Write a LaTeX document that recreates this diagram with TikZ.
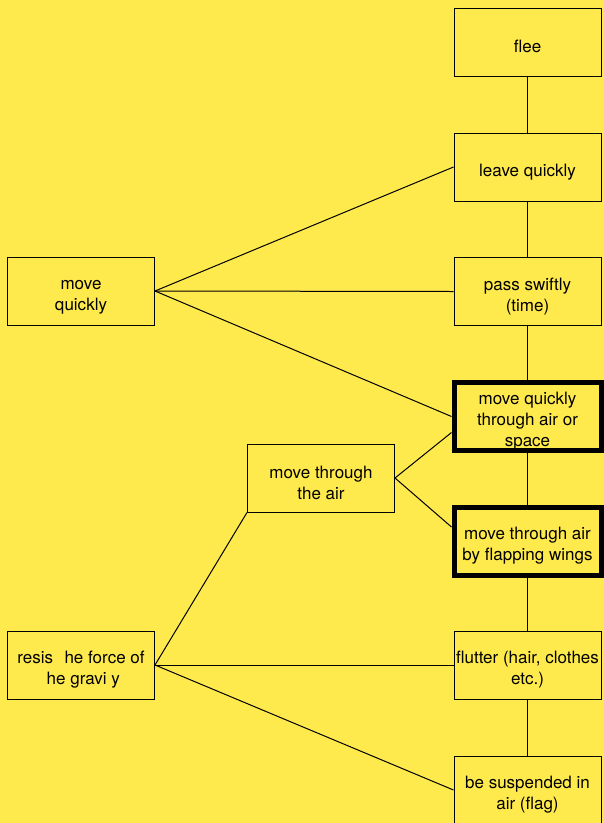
\documentclass[tikz,border=0pt]{standalone}
\usepackage{fontspec}
\setmainfont{TeX Gyre Heros}
\newcommand{\dropline}{\rule{0pt}{22pt}}

\begin{document}
\begin{tikzpicture}[x=1pt,y=1pt,
  sense/.style={draw=black,line width=1pt,minimum width=147pt,minimum height=68pt,
    inner sep=0pt,align=center,font=\fontsize{17}{21}\selectfont},
  sensebold/.style={sense,line width=5pt},
  link/.style={line width=1pt,color=black}]
% ------------------------------------------------ background
\definecolor{sheet_yellow}{RGB}{255,234,78} %#FFEA4E
\fill[sheet_yellow] (0,0) rectangle (604,-823);
\useasboundingbox (0,0) rectangle (604,-823);

% ------------------------------------------------ right column of senses
\node[sense]     (flee)    at (527.5,-42)  {\dropline flee};
\node[sense]     (leave)   at (527.5,-167) {\dropline leave quickly};
\node[sense]     (pass)    at (527.5,-291.5) {\dropline pass swiftly\\(time)};
\node[sensebold] (airsp)   at (527.5,-416.5) {\dropline move quickly\\through air or\\space};
\node[sensebold] (wings)   at (527.5,-541) {\dropline move through air\\by flapping wings};
\node[sense]     (flutter) at (527.5,-665) {\dropline flutter (hair, clothes\\etc.)};
\node[sense]     (susp)    at (527.5,-790) {\dropline be suspended in\\air (flag)};

% ------------------------------------------------ groups on the left
\node[sense] (quick)  at (81,-291)  {\dropline move\\quickly};
\node[sense] (thrair) at (321,-478) {\dropline move through\\the air};
\node[sense] (resist) at (81,-665)  {\dropline resis\phantom{t}\hspace{2pt} he force of\\\phantom{t}he gravi\phantom{t}y};

% ------------------------------------------------ trunk
\draw[link] (flee) -- (leave);
\draw[link] (leave) -- (pass);
\draw[link] (pass) -- (airsp);
\draw[link] (airsp) -- (wings);
\draw[link] (wings) -- (flutter);
\draw[link] (flutter) -- (susp);

% ------------------------------------------------ branches
\draw[link] (quick.east) -- (leave.west);
\draw[link] (quick.east) -- (pass.west);
\draw[link] (quick.east) -- (airsp.west);

\draw[link] (thrair.east) -- ([yshift=-16pt]airsp.west);
\draw[link] (thrair.east) -- ([yshift=14pt]wings.west);

\draw[link] (resist.east) -- (thrair.south west);
\draw[link] (resist.east) -- (flutter.west);
\draw[link] (resist.east) -- (susp.west);

\end{tikzpicture}
\end{document}
